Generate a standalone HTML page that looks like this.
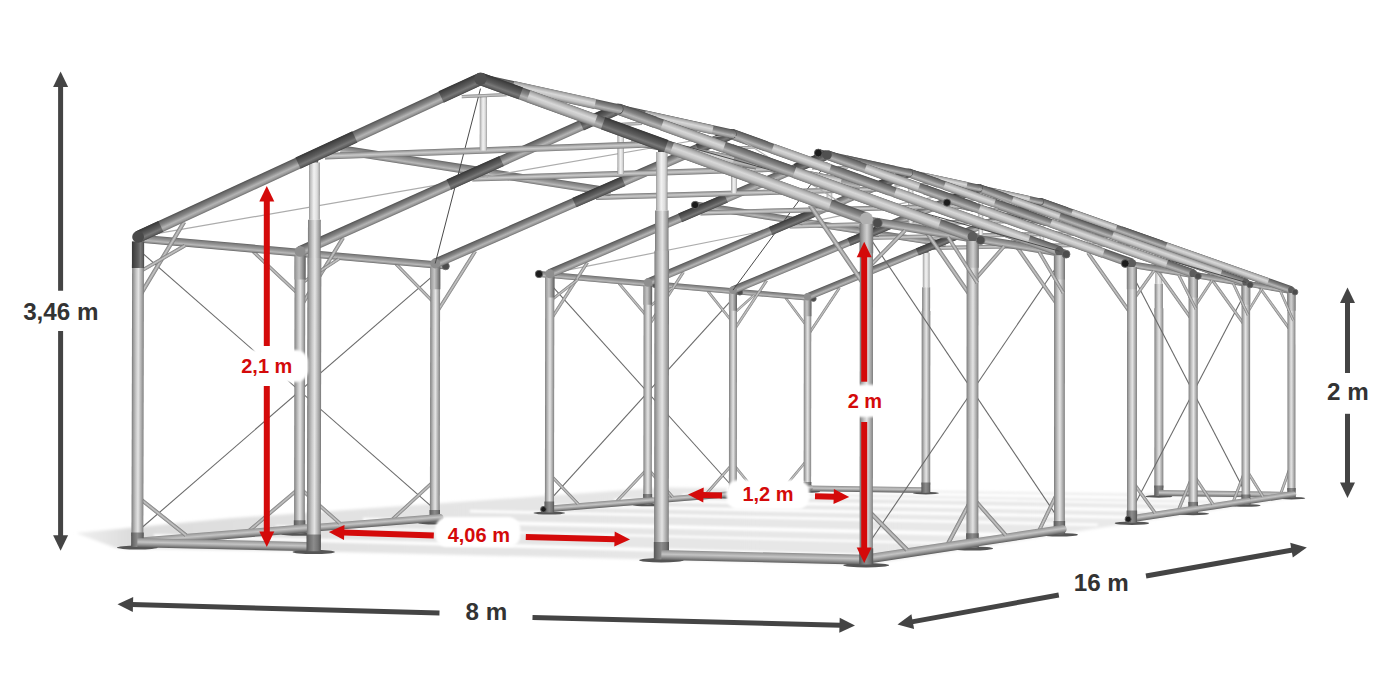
<!DOCTYPE html>
<html><head><meta charset="utf-8"><title>Tent frame dimensions</title>
<style>
html,body{margin:0;padding:0;background:#fff}
body{width:1400px;height:700px;overflow:hidden;font-family:"Liberation Sans",sans-serif}
svg{display:block}
text{font-family:"Liberation Sans",sans-serif;font-weight:700;text-anchor:middle}
.dk{font-size:24.2px;fill:#333}
.rd{font-size:20px;fill:#d40a0a}
</style></head><body>
<svg width="1400" height="700" viewBox="0 0 1400 700">
<defs>
<linearGradient id="g_floor" gradientUnits="userSpaceOnUse" x1="70" y1="0" x2="1300" y2="0"><stop offset="0" stop-color="#f2f2f2"/><stop offset="0.05" stop-color="#dcdcdc"/><stop offset="0.3" stop-color="#e4e4e4"/><stop offset="1" stop-color="#eaeaea"/></linearGradient>
<linearGradient id="g_post" x1="0" y1="0" x2="0" y2="1"><stop offset="0" stop-color="#767676"/><stop offset="0.1" stop-color="#969696"/><stop offset="0.34" stop-color="#c6c6c6"/><stop offset="0.54" stop-color="#e4e4e4"/><stop offset="0.78" stop-color="#b2b2b2"/><stop offset="0.92" stop-color="#949494"/><stop offset="1" stop-color="#727272"/></linearGradient><linearGradient id="g_light" x1="0" y1="0" x2="0" y2="1"><stop offset="0" stop-color="#8e8e8e"/><stop offset="0.12" stop-color="#bdbdbd"/><stop offset="0.45" stop-color="#f2f2f2"/><stop offset="0.75" stop-color="#dcdcdc"/><stop offset="0.92" stop-color="#b4b4b4"/><stop offset="1" stop-color="#8c8c8c"/></linearGradient><linearGradient id="g_raft" x1="0" y1="0" x2="0" y2="1"><stop offset="0" stop-color="#4e4e4e"/><stop offset="0.15" stop-color="#6a6a6a"/><stop offset="0.4" stop-color="#858585"/><stop offset="0.66" stop-color="#b4b4b4"/><stop offset="0.85" stop-color="#9a9a9a"/><stop offset="1" stop-color="#6e6e6e"/></linearGradient><linearGradient id="g_rlite" x1="0" y1="0" x2="0" y2="1"><stop offset="0" stop-color="#8a8a8a"/><stop offset="0.15" stop-color="#b0b0b0"/><stop offset="0.42" stop-color="#d8d8d8"/><stop offset="0.68" stop-color="#c4c4c4"/><stop offset="0.88" stop-color="#9c9c9c"/><stop offset="1" stop-color="#777777"/></linearGradient><linearGradient id="g_purl" x1="0" y1="0" x2="0" y2="1"><stop offset="0" stop-color="#606060"/><stop offset="0.15" stop-color="#7e7e7e"/><stop offset="0.45" stop-color="#9a9a9a"/><stop offset="0.68" stop-color="#b8b8b8"/><stop offset="0.88" stop-color="#909090"/><stop offset="1" stop-color="#646464"/></linearGradient><linearGradient id="g_rail" x1="0" y1="0" x2="0" y2="1"><stop offset="0" stop-color="#8c8c8c"/><stop offset="0.15" stop-color="#a4a4a4"/><stop offset="0.42" stop-color="#c4c4c4"/><stop offset="0.62" stop-color="#a6a6a6"/><stop offset="0.85" stop-color="#7c7c7c"/><stop offset="1" stop-color="#5c5c5c"/></linearGradient><linearGradient id="g_brace" x1="0" y1="0" x2="0" y2="1"><stop offset="0" stop-color="#747474"/><stop offset="0.25" stop-color="#a2a2a2"/><stop offset="0.5" stop-color="#c6c6c6"/><stop offset="0.78" stop-color="#a0a0a0"/><stop offset="1" stop-color="#727272"/></linearGradient><linearGradient id="g_dark" x1="0" y1="0" x2="0" y2="1"><stop offset="0" stop-color="#363636"/><stop offset="0.2" stop-color="#484848"/><stop offset="0.5" stop-color="#5e5e5e"/><stop offset="0.7" stop-color="#787878"/><stop offset="0.88" stop-color="#626262"/><stop offset="1" stop-color="#444444"/></linearGradient><linearGradient id="g_slv" x1="0" y1="0" x2="0" y2="1"><stop offset="0" stop-color="#6e6e6e"/><stop offset="0.1" stop-color="#8c8c8c"/><stop offset="0.34" stop-color="#b6b6b6"/><stop offset="0.54" stop-color="#d0d0d0"/><stop offset="0.78" stop-color="#a6a6a6"/><stop offset="1" stop-color="#707070"/></linearGradient><linearGradient id="g_sock" x1="0" y1="0" x2="0" y2="1"><stop offset="0" stop-color="#565656"/><stop offset="0.2" stop-color="#707070"/><stop offset="0.5" stop-color="#8c8c8c"/><stop offset="0.8" stop-color="#747474"/><stop offset="1" stop-color="#545454"/></linearGradient><linearGradient id="g_tie" x1="0" y1="0" x2="0" y2="1"><stop offset="0" stop-color="#727272"/><stop offset="0.18" stop-color="#9c9c9c"/><stop offset="0.48" stop-color="#cacaca"/><stop offset="0.78" stop-color="#a8a8a8"/><stop offset="1" stop-color="#747474"/></linearGradient>
<filter id="soft" x="-20%" y="-30%" width="140%" height="160%"><feGaussianBlur stdDeviation="1.2"/></filter>
<filter id="blur3" x="-10%" y="-50%" width="120%" height="200%"><feGaussianBlur stdDeviation="1.3"/></filter>
<filter id="blur6" x="-10%" y="-30%" width="120%" height="160%"><feGaussianBlur stdDeviation="1.6"/></filter>
</defs>
<rect width="1400" height="700" fill="#fff"/>
<g filter="url(#blur6)"><polygon points="75.9,533 116.1,548 339.7,551.9 866.2,564.6 1301.9,496.2 663.1,487.5 230.1,518.3" fill="url(#g_floor)"/></g><g filter="url(#blur3)" stroke="#ffffff" fill="none" stroke-opacity="0.9"><line x1="153.9" y1="535.9" x2="891.3" y2="556.4" stroke-width="3.6"/><line x1="275.7" y1="526.4" x2="972.1" y2="544" stroke-width="2.4"/><line x1="363.1" y1="519.6" x2="1029.1" y2="535.3" stroke-width="4"/><line x1="469.9" y1="511.2" x2="1097.7" y2="524.8" stroke-width="2.8"/><line x1="543.3" y1="505.5" x2="1144.3" y2="517.7" stroke-width="3.2"/><line x1="614.3" y1="500" x2="1188.7" y2="510.9" stroke-width="3.6"/><line x1="682.4" y1="494.7" x2="1230.9" y2="504.5" stroke-width="2.4"/><line x1="732.8" y1="490.8" x2="1261.8" y2="499.8" stroke-width="4"/></g>
<g id="frame" stroke-linecap="butt">
<ellipse cx="807.4" cy="491.5" rx="12.8" ry="1.3" fill="#555555"/>
<rect x="0" y="-1.3" width="57.6" height="2.6" transform="translate(807.6 335.7) rotate(-56.41)" fill="url(#g_brace)"/>
<rect x="0" y="-1.2" width="36.8" height="2.3" transform="translate(785.5 297.8) rotate(53.19)" fill="url(#g_brace)"/>
<rect x="0" y="-1.3" width="37" height="2.5" transform="translate(783.9 488.1) rotate(-50.37)" fill="url(#g_brace)"/>
<ellipse cx="925.9" cy="493.1" rx="13.1" ry="1.3" fill="#555555"/>
<rect x="0" y="-2.7" width="79.7" height="5.4" transform="translate(733 291.2) rotate(5.07)" fill="url(#g_purl)"/>
<rect x="0" y="-2" width="223.2" height="4" transform="translate(933.1 248) rotate(-1.18)" fill="url(#g_tie)"/>
<rect x="0" y="-3.7" width="184.6" height="7.4" transform="translate(807.4 484.3) rotate(-89.95)" fill="url(#g_post)"/>
<rect x="0" y="-3.8" width="16.5" height="7.6" transform="translate(807.6 316.2) rotate(-89.95)" fill="url(#g_rail)"/>
<rect x="0" y="-3.9" width="9.1" height="7.9" transform="translate(807.4 491.1) rotate(-89.95)" fill="url(#g_sock)"/>
<rect x="0" y="-3.1" width="67.5" height="6.1" transform="translate(879.3 233.7) rotate(8.84)" fill="url(#g_purl)"/>
<rect x="0" y="-2.8" width="118.5" height="5.7" transform="translate(807.4 488.4) rotate(0.77)" fill="url(#g_rail)"/>
<circle cx="813.5" cy="298.7" r="2.7" fill="#4c4c4c"/><circle cx="813.5" cy="298.7" r="2.7" fill="none" stroke="#6a6a6a" stroke-width="0.8"/>
<ellipse cx="1158.8" cy="496.4" rx="13.5" ry="1.3" fill="#555555"/>
<rect x="0" y="-2.2" width="8.3" height="4.5" transform="translate(926.1 255) rotate(-89.96)" fill="url(#g_dark)"/>
<rect x="0" y="-3.3" width="34.6" height="6.7" transform="translate(926.1 287.3) rotate(-89.96)" fill="url(#g_light)"/>
<rect x="0" y="-4" width="27.7" height="8" transform="translate(926.1 314.9) rotate(-89.96)" fill="url(#g_post)"/>
<rect x="0" y="-4.3" width="173.9" height="8.6" transform="translate(925.9 484.8) rotate(-89.96)" fill="url(#g_post)"/>
<rect x="0" y="-4.5" width="10.3" height="8.9" transform="translate(925.9 492.7) rotate(-89.96)" fill="url(#g_sock)"/>
<rect x="0" y="-3.7" width="251.1" height="7.3" transform="translate(807.6 296.8) rotate(-22.26)" fill="url(#g_raft)"/>
<rect x="0" y="-3.8" width="41.6" height="7.6" transform="translate(917.3 251.9) rotate(-22.26)" fill="url(#g_dark)"/>
<rect x="0" y="-3.8" width="28.4" height="7.7" transform="translate(1013.7 212.5) rotate(-22.26)" fill="url(#g_dark)"/>
<circle cx="807.6" cy="296.8" r="3.7" fill="#8e8e8e"/>
<rect x="-2.8" y="-2.8" width="83.3" height="5.7" rx="2.8" transform="translate(732.8 494) rotate(-4.61)" fill="url(#g_rail)"/>
<line x1="549.7" y1="283.3" x2="732.8" y2="487" stroke="#6a6a6a" stroke-width="1.1"/>
<line x1="733" y1="298.4" x2="549.4" y2="500.7" stroke="#6a6a6a" stroke-width="1.1"/>
<ellipse cx="732.8" cy="497.7" rx="13.7" ry="1.3" fill="#555555"/>
<rect x="0" y="-2.2" width="34.1" height="4.4" transform="translate(1041.9 245.8) rotate(-89.98)" fill="url(#g_light)"/>
<rect x="0" y="-1" width="30" height="2.1" transform="translate(1027.5 212.4) rotate(-1.44)" fill="url(#g_tie)"/>
<ellipse cx="1291.5" cy="498.2" rx="13.7" ry="1.3" fill="#555555"/>
<rect x="0" y="-3.2" width="56.3" height="6.3" transform="translate(1084.2 229.8) rotate(11.19)" fill="url(#g_purl)"/>
<rect x="0" y="-3.1" width="30.8" height="6.3" transform="translate(1098.7 232.6) rotate(11.19)" fill="url(#g_rlite)"/>
<rect x="0" y="-1.4" width="61.3" height="2.8" transform="translate(733 331.6) rotate(-56.69)" fill="url(#g_brace)"/>
<rect x="0" y="-1.2" width="28.5" height="2.4" transform="translate(733 314.2) rotate(-42.12)" fill="url(#g_brace)"/>
<rect x="0" y="-1.2" width="40.4" height="2.5" transform="translate(707.9 291.1) rotate(51.5)" fill="url(#g_brace)"/>
<rect x="0" y="-1.3" width="34.5" height="2.6" transform="translate(732.9 463.8) rotate(50.68)" fill="url(#g_brace)"/>
<rect x="0" y="-1.4" width="40.7" height="2.7" transform="translate(706 494.3) rotate(-48.64)" fill="url(#g_brace)"/>
<rect x="0" y="-1.4" width="61.7" height="2.8" transform="translate(1255.4 281.5) rotate(54.25)" fill="url(#g_brace)"/>
<rect x="0" y="-1.4" width="32" height="2.7" transform="translate(1280.6 494.2) rotate(-70.22)" fill="url(#g_brace)"/>
<rect x="0" y="-2.3" width="8.6" height="4.6" transform="translate(1158.8 250.4) rotate(-89.99)" fill="url(#g_dark)"/>
<rect x="0" y="-3.5" width="35.8" height="6.9" transform="translate(1158.8 283.8) rotate(-89.99)" fill="url(#g_light)"/>
<rect x="0" y="-4.1" width="28.6" height="8.2" transform="translate(1158.8 312.3) rotate(-89.99)" fill="url(#g_post)"/>
<rect x="0" y="-4.4" width="179.6" height="8.9" transform="translate(1158.8 487.8) rotate(-89.99)" fill="url(#g_post)"/>
<rect x="0" y="-2.9" width="91.1" height="5.8" transform="translate(647.9 283.6) rotate(5.07)" fill="url(#g_purl)"/>
<rect x="0" y="-4.6" width="10.6" height="9.2" transform="translate(1158.8 496) rotate(-89.99)" fill="url(#g_sock)"/>
<rect x="0" y="-2.1" width="230.6" height="4.3" transform="translate(866.9 237.9) rotate(-1.27)" fill="url(#g_tie)"/>
<rect x="0" y="-2.9" width="49.2" height="5.8" transform="translate(1245.9 283.5) rotate(9.43)" fill="url(#g_purl)"/>
<rect x="0" y="-3" width="132.7" height="6" transform="translate(1158.8 493.1) rotate(0.77)" fill="url(#g_rail)"/>
<rect x="0" y="-3.8" width="266.5" height="7.6" transform="translate(1040 201.7) rotate(19.37)" fill="url(#g_raft)"/>
<rect x="0" y="-3.8" width="108.1" height="7.6" transform="translate(1166.1 246) rotate(19.37)" fill="url(#g_rlite)"/>
<rect x="0" y="-3.7" width="47" height="7.5" transform="translate(1071.8 212.8) rotate(19.37)" fill="url(#g_rlite)"/>
<rect x="0" y="-3.9" width="43.7" height="7.8" transform="translate(1121.1 230.2) rotate(19.37)" fill="url(#g_raft)"/>
<rect x="0" y="-3.9" width="28.4" height="7.7" transform="translate(1040 201.7) rotate(19.37)" fill="url(#g_raft)"/>
<circle cx="1291.4" cy="290.1" r="3.3" fill="#5c5c5c"/>
<rect x="0" y="-3.9" width="196.8" height="7.9" transform="translate(732.8 490.1) rotate(-89.94)" fill="url(#g_post)"/>
<rect x="0" y="-4.1" width="17.6" height="8.1" transform="translate(733 310.8) rotate(-89.94)" fill="url(#g_rail)"/>
<rect x="0" y="-4.2" width="9.7" height="8.4" transform="translate(732.8 497.3) rotate(-89.94)" fill="url(#g_sock)"/>
<rect x="0" y="-4" width="197.3" height="7.9" transform="translate(1291.4 293.2) rotate(89.99)" fill="url(#g_post)"/>
<rect x="0" y="-4.1" width="17.6" height="8.2" transform="translate(1291.4 293.2) rotate(89.99)" fill="url(#g_slv)"/>
<rect x="0" y="-4.2" width="9.8" height="8.4" transform="translate(1291.5 488) rotate(89.99)" fill="url(#g_sock)"/>
<circle cx="1040" cy="201.7" r="3.8" fill="#505050"/>
<rect x="0" y="-3.3" width="77.4" height="6.6" transform="translate(802.9 221.8) rotate(8.84)" fill="url(#g_purl)"/>
<circle cx="739.8" cy="292.2" r="2.9" fill="#4c4c4c"/><circle cx="739.8" cy="292.2" r="2.9" fill="none" stroke="#6a6a6a" stroke-width="0.8"/>
<circle cx="1295" cy="292.1" r="2.9" fill="#4c4c4c"/><circle cx="1295" cy="292.1" r="2.9" fill="none" stroke="#6a6a6a" stroke-width="0.8"/>
<rect x="-3.3" y="-3.3" width="69.2" height="6.5" rx="3.3" transform="translate(978.8 188.2) rotate(12.39)" fill="url(#g_raft)"/>
<rect x="0" y="-3.3" width="37.5" height="6.7" transform="translate(993 191.4) rotate(12.39)" fill="url(#g_rlite)"/>
<rect x="0" y="-1.2" width="32.1" height="2.5" transform="translate(1280.6 291.4) rotate(66.25)" fill="url(#g_brace)"/>
<rect x="0" y="-3.9" width="266.1" height="7.8" transform="translate(733 290.1) rotate(-22.52)" fill="url(#g_raft)"/>
<rect x="0" y="-4.1" width="44.1" height="8.1" transform="translate(848.9 242.1) rotate(-22.52)" fill="url(#g_dark)"/>
<rect x="0" y="-4.1" width="30.2" height="8.2" transform="translate(950.9 199.8) rotate(-22.52)" fill="url(#g_dark)"/>
<circle cx="733" cy="290.1" r="3.9" fill="#8e8e8e"/>
<rect x="-3" y="-3" width="94.7" height="6.1" rx="3" transform="translate(647.6 500.9) rotate(-4.61)" fill="url(#g_rail)"/>
<ellipse cx="647.6" cy="504.9" rx="14.7" ry="1.4" fill="#555555"/>
<rect x="0" y="-2.4" width="36.5" height="4.7" transform="translate(980.8 235.4) rotate(-89.97)" fill="url(#g_light)"/>
<rect x="0" y="-1.1" width="31.8" height="2.2" transform="translate(965.5 199.8) rotate(-1.56)" fill="url(#g_tie)"/>
<rect x="-3" y="-3" width="53.9" height="6.1" rx="3" transform="translate(1245.9 501.4) rotate(-8.63)" fill="url(#g_rail)"/>
<line x1="1131.9" y1="273.7" x2="1245.9" y2="493.8" stroke="#6a6a6a" stroke-width="1.1"/>
<line x1="1245.9" y1="291.3" x2="1131.9" y2="509.9" stroke="#6a6a6a" stroke-width="1.1"/>
<ellipse cx="1245.9" cy="505.4" rx="14.7" ry="1.4" fill="#555555"/>
<rect x="0" y="-3.4" width="64.7" height="6.8" transform="translate(1020.8 217.2) rotate(11.19)" fill="url(#g_purl)"/>
<rect x="0" y="-3.4" width="35.4" height="6.7" transform="translate(1037.5 220.5) rotate(11.19)" fill="url(#g_rlite)"/>
<rect x="0" y="-1.5" width="65.4" height="3" transform="translate(647.8 326.9) rotate(-57.02)" fill="url(#g_brace)"/>
<rect x="0" y="-1.3" width="31.6" height="2.6" transform="translate(647.8 308.2) rotate(-40.01)" fill="url(#g_brace)"/>
<rect x="0" y="-1.3" width="44.6" height="2.7" transform="translate(619 283.3) rotate(49.67)" fill="url(#g_brace)"/>
<rect x="0" y="-1.4" width="37.9" height="2.8" transform="translate(647.6 468.5) rotate(48.65)" fill="url(#g_brace)"/>
<rect x="0" y="-1.4" width="45.1" height="2.9" transform="translate(616.8 501.3) rotate(-46.77)" fill="url(#g_brace)"/>
<rect x="0" y="-1.5" width="65.9" height="3" transform="translate(1207.5 273.3) rotate(54.41)" fill="url(#g_brace)"/>
<rect x="0" y="-1.3" width="31.3" height="2.6" transform="translate(1245.9 315.1) rotate(-58.75)" fill="url(#g_brace)"/>
<rect x="0" y="-1.4" width="32.8" height="2.8" transform="translate(1245.9 468.9) rotate(58.46)" fill="url(#g_brace)"/>
<rect x="0" y="-1.4" width="34.7" height="2.9" transform="translate(1233.4 501.2) rotate(-68.97)" fill="url(#g_brace)"/>
<rect x="0" y="-3.1" width="115.6" height="6.2" transform="translate(539 274) rotate(5.07)" fill="url(#g_purl)"/>
<rect x="0" y="-2.3" width="245.2" height="4.6" transform="translate(789.7 226.3) rotate(-1.38)" fill="url(#g_tie)"/>
<rect x="0" y="-3.1" width="56.8" height="6.2" transform="translate(1193.3 274.8) rotate(9.43)" fill="url(#g_purl)"/>
<rect x="0" y="-4" width="283.2" height="8.1" transform="translate(978.8 188.2) rotate(19.43)" fill="url(#g_raft)"/>
<rect x="0" y="-4.1" width="115" height="8.2" transform="translate(1112.5 235.4) rotate(19.43)" fill="url(#g_rlite)"/>
<rect x="0" y="-4" width="49.9" height="8" transform="translate(1012.4 200.1) rotate(19.43)" fill="url(#g_rlite)"/>
<rect x="0" y="-4.2" width="46.4" height="8.4" transform="translate(1064.8 218.6) rotate(19.43)" fill="url(#g_raft)"/>
<rect x="0" y="-4.1" width="30.1" height="8.2" transform="translate(978.8 188.2) rotate(19.43)" fill="url(#g_raft)"/>
<circle cx="1245.9" cy="282.4" r="3.6" fill="#5c5c5c"/>
<rect x="0" y="-4.2" width="210.8" height="8.4" transform="translate(647.6 496.7) rotate(-89.93)" fill="url(#g_post)"/>
<rect x="0" y="-4.4" width="18.9" height="8.7" transform="translate(647.8 304.7) rotate(-89.93)" fill="url(#g_rail)"/>
<rect x="0" y="-4.5" width="10.4" height="9" transform="translate(647.6 504.4) rotate(-89.93)" fill="url(#g_sock)"/>
<rect x="0" y="-4.2" width="211.4" height="8.5" transform="translate(1245.9 285.8) rotate(90)" fill="url(#g_post)"/>
<rect x="0" y="-4.4" width="18.9" height="8.7" transform="translate(1245.9 285.8) rotate(90)" fill="url(#g_slv)"/>
<rect x="0" y="-4.5" width="10.5" height="9" transform="translate(1245.9 494.5) rotate(90)" fill="url(#g_sock)"/>
<circle cx="978.8" cy="188.2" r="4.1" fill="#505050"/>
<rect x="0" y="-3.6" width="109.1" height="7.1" transform="translate(695.1 205) rotate(8.84)" fill="url(#g_purl)"/>
<circle cx="655.6" cy="284.7" r="3.1" fill="#4c4c4c"/><circle cx="655.6" cy="284.7" r="3.1" fill="none" stroke="#6a6a6a" stroke-width="0.8"/>
<circle cx="1250" cy="284.7" r="3.1" fill="#4c4c4c"/><circle cx="1250" cy="284.7" r="3.1" fill="none" stroke="#6a6a6a" stroke-width="0.8"/>
<line x1="549.7" y1="273.7" x2="978.8" y2="188.2" stroke="#acacac" stroke-width="1.2"/>
<line x1="827.1" y1="162.4" x2="733" y2="290.1" stroke="#4a4a4a" stroke-width="1"/>
<rect x="-3.5" y="-3.5" width="78.9" height="7" rx="3.5" transform="translate(908.6 172.8) rotate(12.39)" fill="url(#g_raft)"/>
<rect x="0" y="-3.6" width="43" height="7.1" transform="translate(924.9 176.4) rotate(12.39)" fill="url(#g_rlite)"/>
<rect x="0" y="-1.3" width="35" height="2.7" transform="translate(1233.4 283.7) rotate(64.86)" fill="url(#g_brace)"/>
<rect x="0" y="-4.2" width="282.8" height="8.4" transform="translate(647.9 282.5) rotate(-22.82)" fill="url(#g_raft)"/>
<rect x="0" y="-4.3" width="46.9" height="8.7" transform="translate(770.6 230.9) rotate(-22.82)" fill="url(#g_dark)"/>
<rect x="0" y="-4.4" width="32.2" height="8.8" transform="translate(878.9 185.3) rotate(-22.82)" fill="url(#g_dark)"/>
<circle cx="647.9" cy="282.5" r="4.2" fill="#8e8e8e"/>
<ellipse cx="549.3" cy="513.1" rx="15.8" ry="1.5" fill="#555555"/>
<rect x="0" y="-2.5" width="39.1" height="5" transform="translate(910.7 223.4) rotate(-89.96)" fill="url(#g_light)"/>
<rect x="-3.3" y="-3.3" width="114.6" height="6.5" rx="3.3" transform="translate(543.5 509.3) rotate(-4.61)" fill="url(#g_rail)"/>
<rect x="0" y="-1.2" width="33.8" height="2.4" transform="translate(894.4 185.2) rotate(-1.69)" fill="url(#g_tie)"/>
<rect x="-3.3" y="-3.3" width="61.7" height="6.5" rx="3.3" transform="translate(1193.2 509.4) rotate(-8.63)" fill="url(#g_rail)"/>
<ellipse cx="1193.2" cy="513.7" rx="15.8" ry="1.5" fill="#555555"/>
<rect x="0" y="-3.6" width="75.2" height="7.3" transform="translate(947 202.6) rotate(11.19)" fill="url(#g_purl)"/>
<rect x="0" y="-3.6" width="41.1" height="7.3" transform="translate(966.5 206.5) rotate(11.19)" fill="url(#g_rlite)"/>
<line x1="882.5" y1="178.3" x2="1245.9" y2="282.4" stroke="#4a4a4a" stroke-width="1"/>
<rect x="0" y="-1.6" width="70.2" height="3.2" transform="translate(549.6 321.5) rotate(-57.4)" fill="url(#g_brace)"/>
<rect x="0" y="-1.4" width="35.4" height="2.8" transform="translate(549.6 301.4) rotate(-37.76)" fill="url(#g_brace)"/>
<rect x="0" y="-1.5" width="42" height="3" transform="translate(549.4 473.9) rotate(46.45)" fill="url(#g_brace)"/>
<rect x="0" y="-1.6" width="70.7" height="3.2" transform="translate(1152.3 263.9) rotate(54.59)" fill="url(#g_brace)"/>
<rect x="0" y="-1.4" width="34.2" height="2.8" transform="translate(1193.3 308.8) rotate(-56.69)" fill="url(#g_brace)"/>
<rect x="0" y="-1.5" width="35.9" height="3" transform="translate(1193.2 474.4) rotate(56.41)" fill="url(#g_brace)"/>
<rect x="0" y="-1.6" width="37.9" height="3.1" transform="translate(1178.8 509.4) rotate(-67.57)" fill="url(#g_brace)"/>
<line x1="1131.9" y1="263.3" x2="978.8" y2="188.2" stroke="#acacac" stroke-width="1.2"/>
<rect x="0" y="-2.5" width="261.7" height="5" transform="translate(700.4 212.9) rotate(-1.51)" fill="url(#g_tie)"/>
<rect x="0" y="-3.4" width="73" height="6.8" transform="translate(1125.2 263.5) rotate(9.43)" fill="url(#g_purl)"/>
<rect x="0" y="-4.4" width="302" height="8.7" transform="translate(908.6 172.8) rotate(19.49)" fill="url(#g_raft)"/>
<rect x="0" y="-4.4" width="122.8" height="8.8" transform="translate(1050.9 223.2) rotate(19.49)" fill="url(#g_rlite)"/>
<rect x="0" y="-4.3" width="53.2" height="8.6" transform="translate(944.3 185.5) rotate(19.49)" fill="url(#g_rlite)"/>
<rect x="0" y="-4.5" width="49.5" height="9" transform="translate(1000 205.2) rotate(19.49)" fill="url(#g_raft)"/>
<rect x="0" y="-4.4" width="32.1" height="8.9" transform="translate(908.6 172.8) rotate(19.49)" fill="url(#g_raft)"/>
<circle cx="1193.3" cy="273.6" r="3.9" fill="#5c5c5c"/>
<rect x="0" y="-4.5" width="227" height="9.1" transform="translate(549.4 504.3) rotate(-89.92)" fill="url(#g_post)"/>
<rect x="0" y="-4.7" width="20.3" height="9.4" transform="translate(549.7 297.6) rotate(-89.92)" fill="url(#g_rail)"/>
<rect x="0" y="-4.9" width="11.2" height="9.7" transform="translate(549.3 512.6) rotate(-89.92)" fill="url(#g_sock)"/>
<rect x="0" y="-4.6" width="227.6" height="9.1" transform="translate(1193.2 504.8) rotate(-90)" fill="url(#g_post)"/>
<rect x="0" y="-4.7" width="20.4" height="9.4" transform="translate(1193.3 297.6) rotate(-90)" fill="url(#g_slv)"/>
<rect x="0" y="-4.9" width="11.3" height="9.7" transform="translate(1193.2 513.2) rotate(-90)" fill="url(#g_sock)"/>
<circle cx="908.6" cy="172.8" r="4.4" fill="#505050"/>
<circle cx="1198" cy="276.1" r="3.3" fill="#4c4c4c"/><circle cx="1198" cy="276.1" r="3.3" fill="none" stroke="#6a6a6a" stroke-width="0.8"/>
<rect x="0" y="-3.8" width="49.8" height="7.7" transform="translate(846.1 159.1) rotate(12.39)" fill="url(#g_rlite)"/>
<rect x="0" y="-1.4" width="38.4" height="2.9" transform="translate(1178.8 274.8) rotate(63.3)" fill="url(#g_brace)"/>
<rect x="-3.8" y="-3.8" width="100" height="7.6" rx="3.8" transform="translate(818.3 153) rotate(12.39)" fill="url(#g_raft)"/>
<rect x="0" y="-4.5" width="301.8" height="9" transform="translate(549.7 273.7) rotate(-23.18)" fill="url(#g_raft)"/>
<rect x="0" y="-4.7" width="50" height="9.4" transform="translate(680.1 217.9) rotate(-23.18)" fill="url(#g_dark)"/>
<rect x="0" y="-4.8" width="34.4" height="9.5" transform="translate(795.5 168.5) rotate(-23.18)" fill="url(#g_dark)"/>
<circle cx="549.7" cy="273.7" r="4.5" fill="#8e8e8e"/>
<line x1="138.1" y1="249.3" x2="434.8" y2="509.3" stroke="#6a6a6a" stroke-width="1.1"/>
<line x1="435.2" y1="273.8" x2="137.4" y2="531.5" stroke="#6a6a6a" stroke-width="1.1"/>
<ellipse cx="434.8" cy="522.7" rx="17.1" ry="1.7" fill="#555555"/>
<rect x="0" y="-2.7" width="42.3" height="5.5" transform="translate(829.4 209.5) rotate(-89.95)" fill="url(#g_light)"/>
<rect x="0" y="-1.3" width="36.1" height="2.6" transform="translate(812 168.3) rotate(-1.85)" fill="url(#g_tie)"/>
<ellipse cx="1131.9" cy="523.3" rx="17.2" ry="1.7" fill="#555555"/>
<rect x="-3.5" y="-3.5" width="75.1" height="7.1" rx="3.5" transform="translate(1128.2 519.2) rotate(-8.63)" fill="url(#g_rail)"/>
<rect x="0" y="-1.8" width="75.7" height="3.5" transform="translate(435.1 315.2) rotate(-57.85)" fill="url(#g_brace)"/>
<rect x="0" y="-1.6" width="56.2" height="3.1" transform="translate(395.8 263.9) rotate(45.56)" fill="url(#g_brace)"/>
<rect x="0" y="-1.7" width="57.3" height="3.4" transform="translate(392.7 519.1) rotate(-42.62)" fill="url(#g_brace)"/>
<rect x="0" y="-1.8" width="76.3" height="3.5" transform="translate(1087.9 252.8) rotate(54.8)" fill="url(#g_brace)"/>
<rect x="0" y="-1.5" width="37.7" height="3.1" transform="translate(1131.9 301.5) rotate(-54.38)" fill="url(#g_brace)"/>
<rect x="0" y="-1.6" width="39.6" height="3.3" transform="translate(1131.9 480.8) rotate(54.12)" fill="url(#g_brace)"/>
<rect x="0" y="-3.6" width="144.3" height="7.3" transform="translate(300.1 252.8) rotate(5.07)" fill="url(#g_purl)"/>
<rect x="0" y="-2.7" width="280.5" height="5.4" transform="translate(596 197.3) rotate(-1.66)" fill="url(#g_tie)"/>
<rect x="0" y="-4.7" width="323.5" height="9.4" transform="translate(827.1 154.9) rotate(19.57)" fill="url(#g_raft)"/>
<rect x="0" y="-4.7" width="131.7" height="9.5" transform="translate(979.3 209.1) rotate(19.57)" fill="url(#g_rlite)"/>
<rect x="0" y="-4.7" width="56.8" height="9.3" transform="translate(865.3 168.5) rotate(19.57)" fill="url(#g_rlite)"/>
<rect x="0" y="-4.9" width="53" height="9.7" transform="translate(924.8 189.7) rotate(19.57)" fill="url(#g_raft)"/>
<rect x="0" y="-4.8" width="34.3" height="9.6" transform="translate(827.1 154.9) rotate(19.57)" fill="url(#g_raft)"/>
<circle cx="1131.9" cy="263.3" r="4.2" fill="#5c5c5c"/>
<rect x="0" y="-4.9" width="245.8" height="9.8" transform="translate(434.8 513.1) rotate(-89.9)" fill="url(#g_post)"/>
<rect x="0" y="-5.1" width="22" height="10.2" transform="translate(435.2 289.3) rotate(-89.9)" fill="url(#g_rail)"/>
<rect x="0" y="-5.3" width="12.2" height="10.5" transform="translate(434.8 522.2) rotate(-89.9)" fill="url(#g_sock)"/>
<rect x="0" y="-4.9" width="246.5" height="9.9" transform="translate(1131.9 513.8) rotate(-89.99)" fill="url(#g_post)"/>
<rect x="0" y="-5.1" width="22" height="10.2" transform="translate(1131.9 289.3) rotate(-89.99)" fill="url(#g_slv)"/>
<rect x="0" y="-5.3" width="12.2" height="10.5" transform="translate(1131.9 522.8) rotate(-89.99)" fill="url(#g_sock)"/>
<circle cx="827.1" cy="154.9" r="4.7" fill="#505050"/>
<rect x="0" y="-4.2" width="124.2" height="8.3" transform="translate(488.3 172.9) rotate(8.84)" fill="url(#g_purl)"/>
<circle cx="445.7" cy="266.2" r="3.6" fill="#4c4c4c"/><circle cx="445.7" cy="266.2" r="3.6" fill="none" stroke="#6a6a6a" stroke-width="0.8"/>
<rect x="0" y="-4.9" width="323.4" height="9.8" transform="translate(435.2 263.5) rotate(-23.61)" fill="url(#g_raft)"/>
<rect x="0" y="-5.1" width="53.6" height="10.2" transform="translate(574.3 202.7) rotate(-23.61)" fill="url(#g_dark)"/>
<rect x="0" y="-5.2" width="37" height="10.3" transform="translate(697.7 148.8) rotate(-23.61)" fill="url(#g_dark)"/>
<circle cx="435.2" cy="263.5" r="4.9" fill="#8e8e8e"/>
<rect x="-3.8" y="-3.8" width="148.3" height="7.6" rx="3.8" transform="translate(299.5 529) rotate(-4.61)" fill="url(#g_rail)"/>
<ellipse cx="299.5" cy="534" rx="18.6" ry="1.8" fill="#555555"/>
<rect x="0" y="-3" width="45.9" height="5.9" transform="translate(734 193.3) rotate(-89.94)" fill="url(#g_light)"/>
<rect x="0" y="-1.4" width="38.7" height="2.8" transform="translate(715.4 148.6) rotate(-2.04)" fill="url(#g_tie)"/>
<line x1="866.4" y1="232.6" x2="1059.4" y2="520.1" stroke="#6a6a6a" stroke-width="1.1"/>
<line x1="1059.5" y1="262.5" x2="866.2" y2="547.3" stroke="#6a6a6a" stroke-width="1.1"/>
<ellipse cx="1059.4" cy="534.8" rx="18.7" ry="1.8" fill="#555555"/>
<rect x="0" y="-4.3" width="105.5" height="8.6" transform="translate(756.7 165) rotate(11.19)" fill="url(#g_purl)"/>
<rect x="0" y="-4.3" width="57.7" height="8.6" transform="translate(784.4 170.5) rotate(11.19)" fill="url(#g_rlite)"/>
<rect x="0" y="-1.9" width="82.2" height="3.8" transform="translate(300 307.8) rotate(-58.38)" fill="url(#g_brace)"/>
<rect x="0" y="-1.7" width="46.3" height="3.3" transform="translate(300 284.1) rotate(-32.84)" fill="url(#g_brace)"/>
<rect x="0" y="-1.7" width="64.4" height="3.4" transform="translate(253.1 251.5) rotate(43.24)" fill="url(#g_brace)"/>
<rect x="0" y="-1.8" width="53.6" height="3.6" transform="translate(299.6 487.8) rotate(41.43)" fill="url(#g_brace)"/>
<rect x="0" y="-1.8" width="65.9" height="3.7" transform="translate(249.4 530.4) rotate(-40.32)" fill="url(#g_brace)"/>
<rect x="0" y="-1.9" width="82.9" height="3.8" transform="translate(1012 239.8) rotate(55.06)" fill="url(#g_brace)"/>
<rect x="0" y="-1.8" width="46.5" height="3.7" transform="translate(1039.2 530.2) rotate(-64.17)" fill="url(#g_brace)"/>
<rect x="0" y="-4" width="172.9" height="8" transform="translate(138.1 238.4) rotate(5.07)" fill="url(#g_purl)"/>
<rect x="0" y="-3" width="302.2" height="5.9" transform="translate(472.2 178.7) rotate(-1.85)" fill="url(#g_tie)"/>
<rect x="0" y="-4" width="93.7" height="8" transform="translate(972.6 238.1) rotate(9.43)" fill="url(#g_purl)"/>
<rect x="0" y="-5.1" width="348.2" height="10.2" transform="translate(731.6 134) rotate(19.67)" fill="url(#g_raft)"/>
<rect x="0" y="-5.2" width="142" height="10.3" transform="translate(895 192.4) rotate(19.67)" fill="url(#g_rlite)"/>
<rect x="0" y="-5.1" width="61" height="10.1" transform="translate(772.5 148.6) rotate(19.67)" fill="url(#g_rlite)"/>
<rect x="0" y="-5.3" width="57" height="10.6" transform="translate(836.4 171.4) rotate(19.67)" fill="url(#g_raft)"/>
<rect x="0" y="-5.2" width="36.7" height="10.4" transform="translate(731.6 134) rotate(19.67)" fill="url(#g_raft)"/>
<circle cx="1059.5" cy="251.2" r="4.6" fill="#5c5c5c"/>
<rect x="0" y="-5.4" width="268" height="10.7" transform="translate(299.5 523.6) rotate(-89.89)" fill="url(#g_post)"/>
<rect x="0" y="-5.5" width="24" height="11.1" transform="translate(300 279.6) rotate(-89.89)" fill="url(#g_rail)"/>
<rect x="0" y="-5.7" width="13.3" height="11.5" transform="translate(299.5 533.5) rotate(-89.89)" fill="url(#g_sock)"/>
<rect x="0" y="-5.4" width="268.9" height="10.8" transform="translate(1059.4 524.3) rotate(-89.98)" fill="url(#g_post)"/>
<rect x="0" y="-5.6" width="24" height="11.1" transform="translate(1059.5 279.5) rotate(-89.98)" fill="url(#g_slv)"/>
<rect x="0" y="-5.8" width="13.3" height="11.5" transform="translate(1059.4 534.2) rotate(-89.98)" fill="url(#g_sock)"/>
<circle cx="731.6" cy="134" r="5.1" fill="#505050"/>
<rect x="0" y="-4.6" width="149.6" height="9.1" transform="translate(340.5 149.9) rotate(8.84)" fill="url(#g_purl)"/>
<circle cx="312.5" cy="254.5" r="3.9" fill="#4c4c4c"/><circle cx="312.5" cy="254.5" r="3.9" fill="none" stroke="#6a6a6a" stroke-width="0.8"/>
<circle cx="1066.1" cy="254.2" r="3.9" fill="#4c4c4c"/><circle cx="1066.1" cy="254.2" r="3.9" fill="none" stroke="#6a6a6a" stroke-width="0.8"/>
<line x1="138.1" y1="236.9" x2="731.6" y2="134" stroke="#acacac" stroke-width="1.2"/>
<line x1="480.5" y1="88.6" x2="435.2" y2="263.5" stroke="#4a4a4a" stroke-width="1"/>
<rect x="-4.5" y="-4.5" width="125.3" height="8.9" rx="4.5" transform="translate(618 109) rotate(12.39)" fill="url(#g_raft)"/>
<rect x="0" y="-4.5" width="69.5" height="9.1" transform="translate(644.8 114.9) rotate(12.39)" fill="url(#g_rlite)"/>
<rect x="0" y="-1.7" width="47.7" height="3.4" transform="translate(1039.3 252.1) rotate(59.58)" fill="url(#g_brace)"/>
<rect x="0" y="-5.4" width="348.3" height="10.7" transform="translate(300.1 251.4) rotate(-24.13)" fill="url(#g_raft)"/>
<rect x="0" y="-5.6" width="57.8" height="11.1" transform="translate(448.9 184.7) rotate(-24.13)" fill="url(#g_dark)"/>
<rect x="0" y="-5.7" width="40" height="11.3" transform="translate(581.5 125.3) rotate(-24.13)" fill="url(#g_dark)"/>
<circle cx="300.1" cy="251.4" r="5.4" fill="#8e8e8e"/>
<rect x="-4.2" y="-4.2" width="176.9" height="8.4" rx="4.2" transform="translate(137.4 542) rotate(-4.61)" fill="url(#g_rail)"/>
<ellipse cx="137.4" cy="547.6" rx="20.5" ry="2" fill="#555555"/>
<rect x="0" y="-3.2" width="50.3" height="6.5" transform="translate(620.6 173.9) rotate(-89.93)" fill="url(#g_light)"/>
<rect x="0" y="-1.5" width="41.6" height="3.1" transform="translate(600.5 125.1) rotate(-2.27)" fill="url(#g_tie)"/>
<rect x="-4.2" y="-4.2" width="99.5" height="8.4" rx="4.2" transform="translate(972.4 542.9) rotate(-8.63)" fill="url(#g_rail)"/>
<ellipse cx="972.4" cy="548.5" rx="20.6" ry="2" fill="#555555"/>
<rect x="0" y="-4.8" width="128.1" height="9.5" transform="translate(631.1 140.1) rotate(11.19)" fill="url(#g_purl)"/>
<rect x="0" y="-4.7" width="70" height="9.5" transform="translate(664.9 146.8) rotate(11.19)" fill="url(#g_rlite)"/>
<line x1="559.3" y1="110.7" x2="1059.5" y2="251.2" stroke="#4a4a4a" stroke-width="1"/>
<rect x="0" y="-2.1" width="89.8" height="4.2" transform="translate(137.9 298.9) rotate(-59.03)" fill="url(#g_brace)"/>
<rect x="0" y="-1.8" width="54.2" height="3.6" transform="translate(138 272.8) rotate(-30.14)" fill="url(#g_brace)"/>
<rect x="0" y="-2" width="62" height="3.9" transform="translate(137.5 496.7) rotate(38.59)" fill="url(#g_brace)"/>
<rect x="0" y="-2.1" width="90.7" height="4.2" transform="translate(921 224.2) rotate(55.36)" fill="url(#g_brace)"/>
<rect x="0" y="-1.8" width="47.8" height="3.6" transform="translate(972.6 282.3) rotate(-48.82)" fill="url(#g_brace)"/>
<rect x="0" y="-2" width="50.3" height="3.9" transform="translate(972.4 497.4) rotate(48.64)" fill="url(#g_brace)"/>
<rect x="0" y="-2" width="52.4" height="4.1" transform="translate(947.9 543.7) rotate(-62.08)" fill="url(#g_brace)"/>
<line x1="866.4" y1="218.8" x2="731.6" y2="134" stroke="#acacac" stroke-width="1.2"/>
<ellipse cx="313.7" cy="551.9" rx="21.1" ry="2.1" fill="#555555"/>
<rect x="0" y="-4.4" width="114.3" height="8.8" transform="translate(866.4 220.5) rotate(9.43)" fill="url(#g_purl)"/>
<rect x="0" y="-3.3" width="333.4" height="6.5" transform="translate(324.9 156.3) rotate(-2.09)" fill="url(#g_tie)"/>
<rect x="0" y="-5.6" width="376.9" height="11.2" transform="translate(618 109) rotate(19.79)" fill="url(#g_raft)"/>
<rect x="0" y="-5.7" width="154" height="11.4" transform="translate(794.3 172.4) rotate(19.79)" fill="url(#g_rlite)"/>
<rect x="0" y="-5.5" width="65.9" height="11.1" transform="translate(662 124.9) rotate(19.79)" fill="url(#g_rlite)"/>
<rect x="0" y="-5.8" width="61.6" height="11.6" transform="translate(731 149.7) rotate(19.79)" fill="url(#g_raft)"/>
<rect x="0" y="-5.7" width="39.6" height="11.4" transform="translate(618 109) rotate(19.79)" fill="url(#g_raft)"/>
<circle cx="972.6" cy="236.6" r="5" fill="#5c5c5c"/>
<rect x="0" y="-5.9" width="294.6" height="11.8" transform="translate(137.4 536.1) rotate(-89.87)" fill="url(#g_post)"/>
<rect x="0" y="-6.1" width="26.3" height="12.2" transform="translate(138 267.9) rotate(-89.87)" fill="url(#g_dark)"/>
<rect x="0" y="-6.3" width="14.6" height="12.6" transform="translate(137.4 547) rotate(-89.87)" fill="url(#g_sock)"/>
<rect x="0" y="-5.9" width="295.7" height="11.8" transform="translate(972.4 537) rotate(-89.97)" fill="url(#g_post)"/>
<rect x="0" y="-6.1" width="26.4" height="12.2" transform="translate(972.6 267.7) rotate(-89.97)" fill="url(#g_slv)"/>
<rect x="0" y="-6.3" width="14.6" height="12.6" transform="translate(972.4 547.9) rotate(-89.97)" fill="url(#g_sock)"/>
<circle cx="543.5" cy="509.3" r="2.8" fill="#1c1c1c"/><circle cx="543.5" cy="509.3" r="2.8" fill="none" stroke="#6a6a6a" stroke-width="0.8"/>
<circle cx="618" cy="109" r="5.6" fill="#505050"/>
<circle cx="539" cy="274" r="3.7" fill="#1c1c1c"/><circle cx="539" cy="274" r="3.7" fill="none" stroke="#6a6a6a" stroke-width="0.8"/>
<rect x="0" y="-4.6" width="176.4" height="9.1" transform="translate(137.4 542.7) rotate(1.34)" fill="url(#g_rail)"/>
<circle cx="980.6" cy="240.1" r="4.3" fill="#4c4c4c"/><circle cx="980.6" cy="240.1" r="4.3" fill="none" stroke="#6a6a6a" stroke-width="0.8"/>
<ellipse cx="661.4" cy="560.3" rx="22.2" ry="2.2" fill="#555555"/>
<rect x="-4.9" y="-4.9" width="150.5" height="9.8" rx="4.9" transform="translate(480.5 78.8) rotate(12.39)" fill="url(#g_raft)"/>
<rect x="0" y="-5" width="83.9" height="10" transform="translate(513.2 86) rotate(12.39)" fill="url(#g_rlite)"/>
<rect x="0" y="-1.9" width="54.2" height="3.7" transform="translate(948.1 237.3) rotate(57.35)" fill="url(#g_brace)"/>
<rect x="0" y="-3.6" width="13.4" height="7.2" transform="translate(314.5 166.3) rotate(-89.89)" fill="url(#g_dark)"/>
<rect x="0" y="-5.4" width="57.3" height="10.8" transform="translate(314.4 219.8) rotate(-89.89)" fill="url(#g_light)"/>
<rect x="0" y="-6.4" width="44.6" height="12.8" transform="translate(314.3 264.4) rotate(-89.89)" fill="url(#g_post)"/>
<rect x="0" y="-6.9" width="280.5" height="13.9" transform="translate(313.8 538.5) rotate(-89.89)" fill="url(#g_post)"/>
<rect x="0" y="-7.2" width="16.6" height="14.4" transform="translate(313.7 551.2) rotate(-89.89)" fill="url(#g_sock)"/>
<rect x="0" y="-5.9" width="377.2" height="11.8" transform="translate(138.1 236.9) rotate(-24.78)" fill="url(#g_raft)"/>
<rect x="0" y="-6.1" width="62.6" height="12.2" transform="translate(298 163.1) rotate(-24.78)" fill="url(#g_dark)"/>
<rect x="0" y="-6.2" width="43.5" height="12.5" transform="translate(441.1 97) rotate(-24.78)" fill="url(#g_dark)"/>
<rect x="0" y="-6" width="25.1" height="11.9" transform="translate(138.1 236.9) rotate(-24.78)" fill="url(#g_dark)"/>
<circle cx="138.1" cy="236.9" r="5.9" fill="#4a4a4a"/>
<rect x="0" y="-3.6" width="55.5" height="7.2" transform="translate(483.3 150.5) rotate(-89.91)" fill="url(#g_light)"/>
<rect x="0" y="-1.7" width="45.1" height="3.4" transform="translate(461.7 96.6) rotate(-2.56)" fill="url(#g_tie)"/>
<rect x="-4.6" y="-4.6" width="120.6" height="9.3" rx="4.6" transform="translate(866.2 559) rotate(-8.63)" fill="url(#g_rail)"/>
<circle cx="695.1" cy="205" r="3.7" fill="#1c1c1c"/><circle cx="695.1" cy="205" r="3.7" fill="none" stroke="#6a6a6a" stroke-width="0.8"/>
<ellipse cx="866.2" cy="565.2" rx="22.9" ry="2.2" fill="#555555"/>
<circle cx="818.3" cy="153" r="3.9" fill="#1c1c1c"/><circle cx="818.3" cy="153" r="3.9" fill="none" stroke="#6a6a6a" stroke-width="0.8"/>
<rect x="0" y="-2.3" width="100.1" height="4.7" transform="translate(810.1 205.2) rotate(55.74)" fill="url(#g_brace)"/>
<rect x="0" y="-2" width="55.1" height="4" transform="translate(866.4 269.6) rotate(-45.48)" fill="url(#g_brace)"/>
<rect x="0" y="-2.2" width="58.1" height="4.4" transform="translate(866.2 508.5) rotate(45.35)" fill="url(#g_brace)"/>
<circle cx="947" cy="202.6" r="3.7" fill="#1c1c1c"/><circle cx="947" cy="202.6" r="3.7" fill="none" stroke="#6a6a6a" stroke-width="0.8"/>
<rect x="0" y="-3.8" width="14.1" height="7.6" transform="translate(661.9 156) rotate(-89.93)" fill="url(#g_dark)"/>
<rect x="0" y="-5.7" width="58.5" height="11.4" transform="translate(661.8 210.5) rotate(-89.93)" fill="url(#g_light)"/>
<rect x="0" y="-6.8" width="47" height="13.5" transform="translate(661.8 257.4) rotate(-89.93)" fill="url(#g_post)"/>
<rect x="0" y="-7.3" width="295.5" height="14.6" transform="translate(661.4 546.2) rotate(-89.93)" fill="url(#g_post)"/>
<rect x="0" y="-7.6" width="17.5" height="15.2" transform="translate(661.4 559.6) rotate(-89.93)" fill="url(#g_sock)"/>
<rect x="0" y="-4.9" width="204.8" height="9.9" transform="translate(661.4 554.9) rotate(1.34)" fill="url(#g_rail)"/>
<rect x="0" y="-6.2" width="410.5" height="12.5" transform="translate(480.5 78.8) rotate(19.93)" fill="url(#g_raft)"/>
<rect x="0" y="-6.3" width="168.1" height="12.6" transform="translate(671.9 148.2) rotate(19.93)" fill="url(#g_rlite)"/>
<rect x="0" y="-6.1" width="71.6" height="12.3" transform="translate(528.3 96.1) rotate(19.93)" fill="url(#g_rlite)"/>
<rect x="0" y="-6.4" width="67" height="12.8" transform="translate(603.1 123.3) rotate(19.93)" fill="url(#g_dark)"/>
<rect x="0" y="-6.3" width="42.9" height="12.6" transform="translate(480.5 78.8) rotate(19.93)" fill="url(#g_dark)"/>
<circle cx="866.4" cy="218.8" r="6.6" fill="#b0b0b0"/>
<rect x="0" y="-6.6" width="328.5" height="13.2" transform="translate(866.2 552.4) rotate(-89.96)" fill="url(#g_post)"/>
<rect x="0" y="-6.8" width="29.4" height="13.6" transform="translate(866.4 253.3) rotate(-89.96)" fill="url(#g_slv)"/>
<rect x="0" y="-7" width="16.3" height="14" transform="translate(866.2 564.6) rotate(-89.96)" fill="url(#g_sock)"/>
<circle cx="480.5" cy="78.8" r="6.2" fill="#505050"/>
<circle cx="1128.2" cy="519.2" r="3" fill="#1c1c1c"/><circle cx="1128.2" cy="519.2" r="3" fill="none" stroke="#6a6a6a" stroke-width="0.8"/>
<circle cx="1125.2" cy="263.5" r="3.9" fill="#1c1c1c"/><circle cx="1125.2" cy="263.5" r="3.9" fill="none" stroke="#6a6a6a" stroke-width="0.8"/>
<circle cx="877.5" cy="223" r="4.7" fill="#4c4c4c"/><circle cx="877.5" cy="223" r="4.7" fill="none" stroke="#6a6a6a" stroke-width="0.8"/>
</g>
<g id="labels">

<rect x="225" y="350" width="83" height="32" rx="12" fill="#fff" filter="url(#soft)"/>
<rect x="726.4" y="480" width="83" height="29.3" rx="12" fill="#fff" filter="url(#soft)"/>
<rect x="435.3" y="517" width="85" height="30" rx="12" fill="#fff" filter="url(#soft)"/>
<rect x="821" y="384.8" width="86.4" height="32.2" rx="12" fill="#fff" filter="url(#soft)"/>
<line x1="60.6" y1="290.7" x2="60.6" y2="85.9" stroke="#444444" stroke-width="5"/><polygon points="60.6,71.4 68.1,86.9 53.1,86.9" fill="#444444"/>
<line x1="60.6" y1="331" x2="60.6" y2="536.3" stroke="#444444" stroke-width="5"/><polygon points="60.6,550.8 53.1,535.3 68.1,535.3" fill="#444444"/>
<line x1="439.5" y1="613" x2="132" y2="604.6" stroke="#444444" stroke-width="5"/><polygon points="117.5,604.2 133.2,597.1 132.8,612.1" fill="#444444"/>
<line x1="532.5" y1="617.4" x2="840.5" y2="625.2" stroke="#444444" stroke-width="5"/><polygon points="855,625.6 839.3,632.7 839.7,617.7" fill="#444444"/>
<line x1="1058.8" y1="595" x2="911.8" y2="621.9" stroke="#444444" stroke-width="5"/><polygon points="897.5,624.5 911.4,614.3 914.1,629.1" fill="#444444"/>
<line x1="1146" y1="576" x2="1292.5" y2="550" stroke="#444444" stroke-width="5"/><polygon points="1306.8,547.5 1292.8,557.6 1290.2,542.8" fill="#444444"/>
<line x1="1347.5" y1="373" x2="1347.5" y2="302" stroke="#444444" stroke-width="5"/><polygon points="1347.5,287.5 1355,303 1340,303" fill="#444444"/>
<line x1="1347.5" y1="413.8" x2="1347.5" y2="483.5" stroke="#444444" stroke-width="5"/><polygon points="1347.5,498 1340,482.5 1355,482.5" fill="#444444"/>
<line x1="266.8" y1="346" x2="266.8" y2="200.5" stroke="#d40a0a" stroke-width="6"/><polygon points="266.8,186 274.3,201.5 259.3,201.5" fill="#d40a0a"/>
<line x1="266.8" y1="386" x2="266.8" y2="532.5" stroke="#d40a0a" stroke-width="6"/><polygon points="266.8,547 259.3,531.5 274.3,531.5" fill="#d40a0a"/>
<line x1="433.8" y1="535.5" x2="343.3" y2="532.5" stroke="#d40a0a" stroke-width="6"/><polygon points="328.8,532 344.5,525 344,540" fill="#d40a0a"/>
<line x1="525.8" y1="537" x2="615.5" y2="539.2" stroke="#d40a0a" stroke-width="6"/><polygon points="630,539.5 614.3,546.6 614.7,531.6" fill="#d40a0a"/>
<line x1="864.2" y1="381.7" x2="864.2" y2="256.3" stroke="#d40a0a" stroke-width="6"/><polygon points="864.2,241.8 871.7,257.3 856.7,257.3" fill="#d40a0a"/>
<line x1="864.2" y1="422" x2="864.2" y2="548.5" stroke="#d40a0a" stroke-width="6"/><polygon points="864.2,563 856.7,547.5 871.7,547.5" fill="#d40a0a"/>
<line x1="722" y1="495.5" x2="702.5" y2="494.9" stroke="#d40a0a" stroke-width="6"/><polygon points="688,494.5 703.7,487.5 703.3,502.5" fill="#d40a0a"/>
<line x1="815" y1="496.2" x2="834.7" y2="496.7" stroke="#d40a0a" stroke-width="6"/><polygon points="849.2,497 833.5,504.1 833.9,489.1" fill="#d40a0a"/>
<text x="60.8" y="319.5" class="dk">3,46 m</text>
<text x="486.3" y="620" class="dk">8 m</text>
<text x="1101.3" y="590.6" class="dk">16 m</text>
<text x="1347.8" y="400" class="dk">2 m</text>
<text x="266.8" y="373" class="rd">2,1 m</text>
<text x="478.8" y="541.5" class="rd">4,06 m</text>
<text x="768" y="500.5" class="rd">1,2 m</text>
<text x="864.9" y="408" class="rd">2 m</text>

</g>
</svg>
</body></html>
